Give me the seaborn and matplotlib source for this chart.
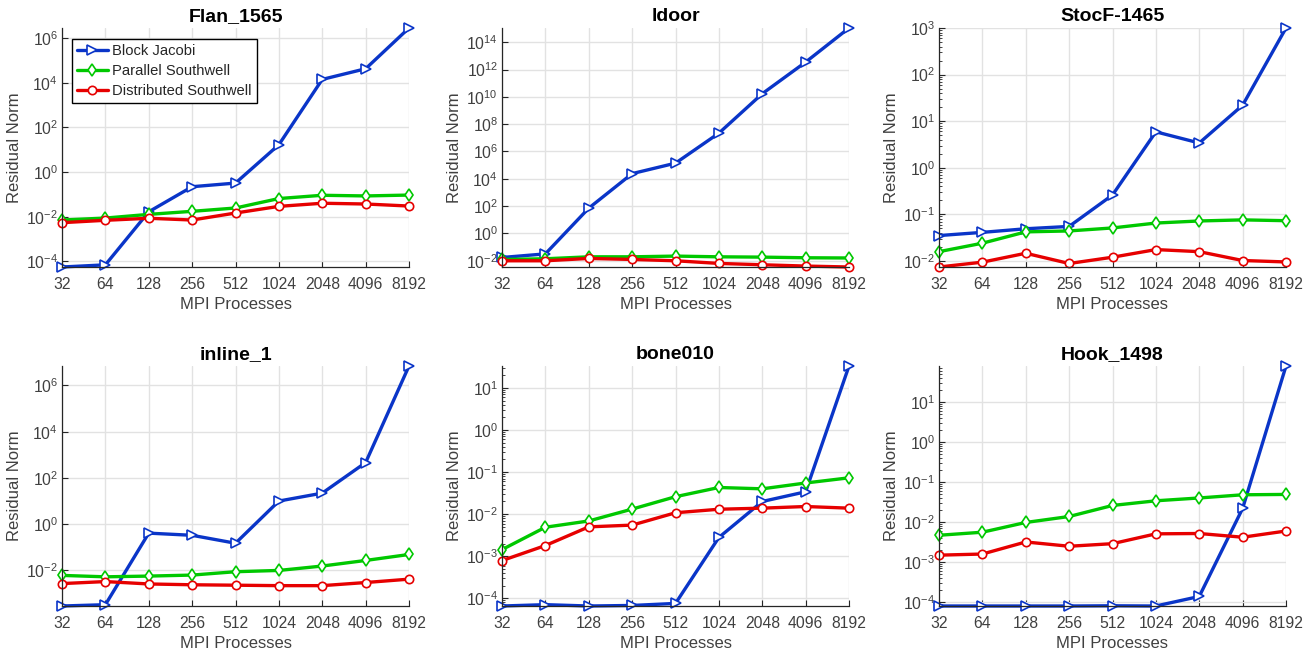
import numpy as np
import pandas as pd
import matplotlib
matplotlib.use("Agg")
import matplotlib.pyplot as plt
import seaborn as sns
from matplotlib.ticker import FixedLocator, FixedFormatter, LogLocator, NullFormatter, NullLocator

sns.set_theme(style="white")
plt.rcParams['font.family'] = ['Liberation Sans', 'DejaVu Sans']
plt.rcParams['mathtext.fontset'] = 'custom'
plt.rcParams['mathtext.rm'] = 'Liberation Sans'
plt.rcParams['mathtext.it'] = 'Liberation Sans:italic'
plt.rcParams['mathtext.bf'] = 'Liberation Sans:bold'

procs = [32, 64, 128, 256, 512, 1024, 2048, 4096, 8192]
proc_labels = ["32", "64", "128", "256", "512", "1024", "2048", "4096", "8192"]
methods = ["Block Jacobi", "Parallel Southwell", "Distributed Southwell"]
titles = ["Flan_1565", "ldoor", "StocF-1465", "inline_1", "bone010", "Hook_1498"]

flan_bj = [5.6e-5, 7e-5, 0.0166, 0.22, 0.32, 16.7, 1.4e4, 4.2e4, 2.8e6]
flan_ps = [0.0071, 0.0087, 0.0127, 0.0174, 0.0245, 0.065, 0.091, 0.085, 0.093]
flan_ds = [0.0054, 0.0069, 0.0085, 0.0071, 0.0146, 0.029, 0.040, 0.037, 0.030]

ldoor_bj = [0.0174, 0.032, 71, 2.4e4, 1.4e5, 2.2e7, 1.7e10, 3.5e12, 1.1e15]
ldoor_ps = [0.0125, 0.014, 0.0195, 0.0195, 0.022, 0.0195, 0.0185, 0.0166, 0.016]
ldoor_ds = [0.010, 0.010, 0.0148, 0.0125, 0.010, 0.0064, 0.0051, 0.0041, 0.0035]

stocf_bj = [0.035, 0.041, 0.049, 0.055, 0.26, 5.9, 3.4, 22, 1000]
stocf_ps = [0.0158, 0.024, 0.042, 0.044, 0.051, 0.065, 0.072, 0.076, 0.073]
stocf_ds = [0.0074, 0.0094, 0.0146, 0.0088, 0.012, 0.0175, 0.0158, 0.0102, 0.0095]

inline_bj = [2.9e-4, 3.3e-4, 0.41, 0.33, 0.15, 10, 22, 460, 6.9e6]
inline_ps = [0.0061, 0.0053, 0.0057, 0.0063, 0.0088, 0.010, 0.0155, 0.027, 0.049]
inline_ds = [0.0027, 0.0033, 0.0026, 0.0024, 0.0023, 0.0022, 0.0022, 0.0030, 0.0042]

bone_bj = [6.6e-5, 7.1e-5, 6.6e-5, 6.8e-5, 7.6e-5, 0.0028, 0.020, 0.034, 33]
bone_ps = [0.00144, 0.0049, 0.0069, 0.0132, 0.026, 0.043, 0.040, 0.055, 0.073]
bone_ds = [0.00079, 0.0018, 0.0050, 0.0055, 0.0108, 0.0131, 0.0139, 0.0152, 0.0139]

hook_bj = [8.1e-5, 8.1e-5, 8.1e-5, 8.1e-5, 8.2e-5, 8.1e-5, 1.4e-4, 0.022, 78]
hook_ps = [0.0047, 0.0056, 0.0098, 0.0138, 0.026, 0.034, 0.040, 0.048, 0.049]
hook_ds = [0.0015, 0.0016, 0.0032, 0.0025, 0.0029, 0.0051, 0.0052, 0.0042, 0.0060]

panels = [
    (flan_bj, flan_ps, flan_ds),
    (ldoor_bj, ldoor_ps, ldoor_ds),
    (stocf_bj, stocf_ps, stocf_ds),
    (inline_bj, inline_ps, inline_ds),
    (bone_bj, bone_ps, bone_ds),
    (hook_bj, hook_ps, hook_ds),
]
ytick_exps = [
    [-4, -2, 0, 2, 4, 6],
    [-2, 0, 2, 4, 6, 8, 10, 12, 14],
    [-2, -1, 0, 1, 2, 3],
    [-2, 0, 2, 4, 6],
    [-4, -3, -2, -1, 0, 1],
    [-4, -3, -2, -1, 0, 1],
]
minor_on = [False, False, True, False, True, True]

colors = ["#0a35c8", "#00c800", "#e60000"]
markers = [">", "d", "o"]

fig = plt.figure(figsize=(13.15, 6.55), dpi=100)
lefts_px = [62, 502, 939]
width_px = 347
rows_px = [(28, 267), (366, 606)]
W, H = 1315, 655

txt_col = "#404040"
for i, (series, title) in enumerate(zip(panels, titles)):
    r, c = divmod(i, 3)
    top, bot = rows_px[r]
    ax = fig.add_axes([lefts_px[c] / W, 1 - bot / H, width_px / W, (bot - top) / H])
    ax.set_xscale('log', base=2)
    ax.set_yscale('log')
    for k, vals in enumerate(series):
        df = pd.DataFrame({"procs": procs, "res": vals})
        sns.lineplot(data=df, x="procs", y="res", ax=ax, color=colors[k],
                     marker=markers[k], markersize=7 if k == 0 else 6,
                     markerfacecolor="white", markeredgecolor=colors[k],
                     markeredgewidth=1.2, linewidth=2.4, label=methods[k],
                     estimator=None, clip_on=False, legend=False)
    allv = np.concatenate([np.asarray(s, float) for s in series])
    ax.set_ylim(allv.min(), allv.max())
    ax.set_xlim(procs[0], procs[-1])
    ax.xaxis.set_major_locator(FixedLocator(procs))
    ax.xaxis.set_major_formatter(FixedFormatter(proc_labels))
    ax.xaxis.set_minor_locator(NullLocator())
    ax.yaxis.set_major_locator(FixedLocator([10.0 ** e for e in ytick_exps[i]]))
    ax.yaxis.set_major_formatter(FixedFormatter(
        [r"$\mathregular{10^{%d}}$" % e for e in ytick_exps[i]]))
    if minor_on[i]:
        ax.yaxis.set_minor_locator(LogLocator(base=10, subs=np.arange(2, 10)))
        ax.yaxis.set_minor_formatter(NullFormatter())
    else:
        ax.yaxis.set_minor_locator(NullLocator())
    ax.grid(True, which="major", color="#e2e2e2", linewidth=1.0)
    ax.set_axisbelow(True)
    for s in ["top", "right"]:
        ax.spines[s].set_visible(False)
    for s in ["left", "bottom"]:
        ax.spines[s].set_color("#262626")
        ax.spines[s].set_linewidth(0.9)
    ax.tick_params(axis="x", which="major", direction="in", length=4,
                   width=0.8, color="#262626", labelsize=11.3, labelcolor=txt_col,
                   bottom=True, pad=7)
    ax.tick_params(axis="y", which="major", direction="in", length=4,
                   width=0.8, color="#262626", labelsize=11.3, labelcolor=txt_col,
                   left=True, pad=3)
    ax.tick_params(axis="y", which="minor", direction="in", length=2.5,
                   width=0.6, color="#262626", left=True)
    ax.set_xlabel("MPI Processes", fontsize=12, color=txt_col, labelpad=4)
    ax.set_ylabel("Residual Norm", fontsize=12, color=txt_col, labelpad=3)
    ax.set_title(title, fontsize=14, fontweight="bold", color="black", pad=5)
    if i == 0:
        leg = ax.legend(loc="upper left", bbox_to_anchor=(0.028, 0.955),
                        fontsize=10.6, frameon=True, fancybox=False,
                        edgecolor="black", borderpad=0.35, labelspacing=0.4,
                        handlelength=2.1, handletextpad=0.3, borderaxespad=0)
        leg.get_frame().set_linewidth(1.0)
        leg.get_frame().set_facecolor("white")
        leg.get_frame().set_alpha(1.0)

fig.savefig("out.png", dpi=100, facecolor="white")
